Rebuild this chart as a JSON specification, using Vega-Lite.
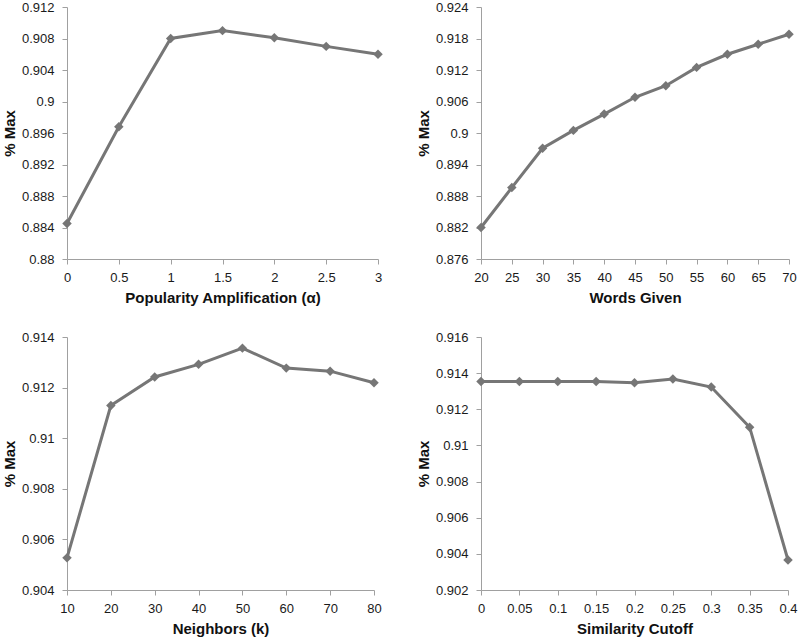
{
  "$schema": "https://vega.github.io/schema/vega-lite/v6.json",
  "padding": {"left": 2, "top": 1, "right": 4, "bottom": 2},
  "background": "white",
  "datasets": {
    "alpha": [
      {"x": 0, "y": 0.8845},
      {"x": 0.5, "y": 0.8968},
      {"x": 1, "y": 0.9080},
      {"x": 1.5, "y": 0.9090},
      {"x": 2, "y": 0.9081},
      {"x": 2.5, "y": 0.9070},
      {"x": 3, "y": 0.9060}
    ],
    "words": [
      {"x": 20, "y": 0.8820},
      {"x": 25, "y": 0.8896},
      {"x": 30, "y": 0.8971},
      {"x": 35, "y": 0.9005},
      {"x": 40, "y": 0.9036},
      {"x": 45, "y": 0.9068},
      {"x": 50, "y": 0.9090},
      {"x": 55, "y": 0.9125},
      {"x": 60, "y": 0.9150},
      {"x": 65, "y": 0.9169},
      {"x": 70, "y": 0.9188}
    ],
    "neighbors": [
      {"x": 10, "y": 0.90527},
      {"x": 20, "y": 0.91129},
      {"x": 30, "y": 0.91242},
      {"x": 40, "y": 0.91292},
      {"x": 50, "y": 0.91356},
      {"x": 60, "y": 0.91277},
      {"x": 70, "y": 0.91265},
      {"x": 80, "y": 0.91219}
    ],
    "cutoff": [
      {"x": 0, "y": 0.91354},
      {"x": 0.05, "y": 0.91354},
      {"x": 0.1, "y": 0.91354},
      {"x": 0.15, "y": 0.91354},
      {"x": 0.2, "y": 0.91347},
      {"x": 0.25, "y": 0.91367},
      {"x": 0.3, "y": 0.91323},
      {"x": 0.35, "y": 0.91101},
      {"x": 0.4, "y": 0.90366}
    ]
  },
  "columns": 2,
  "spacing": {"row": 26, "column": 32},
  "concat": [
    {
      "width": 311, "height": 252,
      "data": {"name": "alpha"},
      "mark": {"type": "line", "color": "#767676", "strokeWidth": 3, "point": {"shape": "diamond", "size": 90, "filled": true, "color": "#767676"}},
      "encoding": {
        "x": {"field": "x", "type": "quantitative", "scale": {"domain": [0, 3], "nice": false}, "title": "Popularity Amplification (α)",
              "axis": {"values": [0, 0.5, 1, 1.5, 2, 2.5, 3]}},
        "y": {"field": "y", "type": "quantitative", "scale": {"domain": [0.88, 0.912], "nice": false, "zero": false}, "title": "% Max",
              "axis": {"values": [0.88, 0.884, 0.888, 0.892, 0.896, 0.9, 0.904, 0.908, 0.912]}}
      }
    },
    {
      "width": 308, "height": 252,
      "data": {"name": "words"},
      "mark": {"type": "line", "color": "#767676", "strokeWidth": 3, "point": {"shape": "diamond", "size": 90, "filled": true, "color": "#767676"}},
      "encoding": {
        "x": {"field": "x", "type": "quantitative", "scale": {"domain": [20, 70], "nice": false, "zero": false}, "title": "Words Given",
              "axis": {"values": [20, 25, 30, 35, 40, 45, 50, 55, 60, 65, 70]}},
        "y": {"field": "y", "type": "quantitative", "scale": {"domain": [0.876, 0.924], "nice": false, "zero": false}, "title": "% Max",
              "axis": {"values": [0.876, 0.882, 0.888, 0.894, 0.9, 0.906, 0.912, 0.918, 0.924]}}
      }
    },
    {
      "width": 307, "height": 253,
      "data": {"name": "neighbors"},
      "mark": {"type": "line", "color": "#767676", "strokeWidth": 3, "point": {"shape": "diamond", "size": 90, "filled": true, "color": "#767676"}},
      "encoding": {
        "x": {"field": "x", "type": "quantitative", "scale": {"domain": [10, 80], "nice": false, "zero": false}, "title": "Neighbors (k)",
              "axis": {"values": [10, 20, 30, 40, 50, 60, 70, 80]}},
        "y": {"field": "y", "type": "quantitative", "scale": {"domain": [0.904, 0.914], "nice": false, "zero": false}, "title": "% Max",
              "axis": {"values": [0.904, 0.906, 0.908, 0.91, 0.912, 0.914]}}
      }
    },
    {
      "width": 307, "height": 253,
      "data": {"name": "cutoff"},
      "mark": {"type": "line", "color": "#767676", "strokeWidth": 3, "point": {"shape": "diamond", "size": 90, "filled": true, "color": "#767676"}},
      "encoding": {
        "x": {"field": "x", "type": "quantitative", "scale": {"domain": [0, 0.4], "nice": false}, "title": "Similarity Cutoff",
              "axis": {"values": [0, 0.05, 0.1, 0.15, 0.2, 0.25, 0.3, 0.35, 0.4]}},
        "y": {"field": "y", "type": "quantitative", "scale": {"domain": [0.902, 0.916], "nice": false, "zero": false}, "title": "% Max",
              "axis": {"values": [0.902, 0.904, 0.906, 0.908, 0.91, 0.912, 0.914, 0.916]}}
      }
    }
  ],
  "config": {
    "view": {"stroke": null},
    "axis": {
      "grid": false,
      "labelFont": "Liberation Sans",
      "labelFontSize": 13,
      "labelColor": "#1a1a1a",
      "labelExpr": "'' + datum.value",
      "labelFlush": false,
      "labelOverlap": false,
      "titleFont": "Liberation Sans",
      "titleFontSize": 15,
      "titleFontWeight": "bold",
      "titleColor": "#111",
      "domainColor": "#a0a0a0",
      "domainWidth": 1,
      "tickColor": "#a0a0a0",
      "tickSize": 5
    },
    "axisX": {"labelPadding": 7, "titlePadding": 6},
    "axisY": {"labelPadding": 8, "titlePadding": 4}
  }
}
